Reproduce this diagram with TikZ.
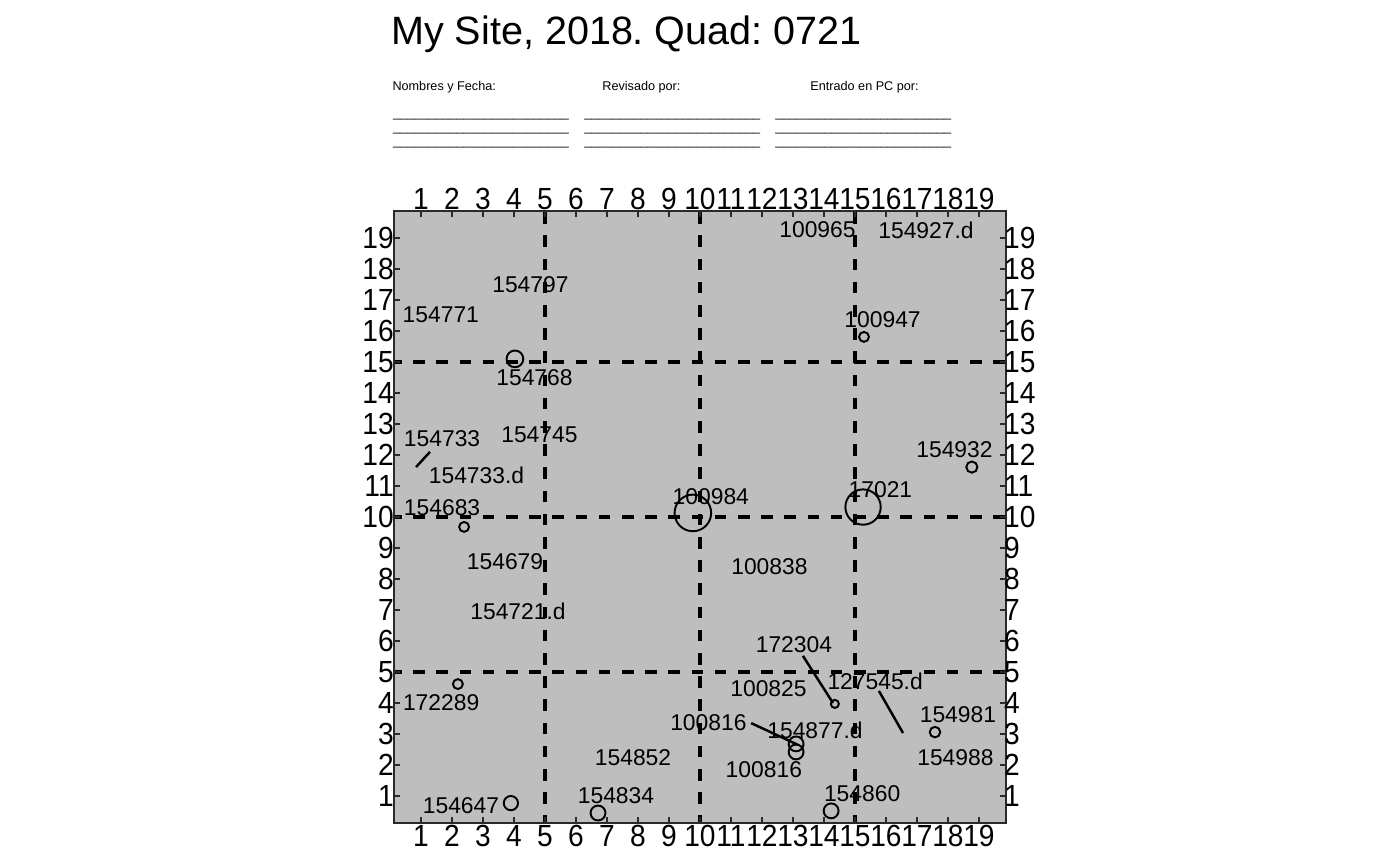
\documentclass[tikz,border=0pt]{standalone}
\usepackage{fontspec}
\setmainfont{Liberation Sans}
\newfontfamily\tickfont[FakeStretch=0.92]{Liberation Sans}
\usepackage{xcolor}
\usepackage{tikz}
\usetikzlibrary{positioning}
\definecolor{plotbg}{HTML}{BEBEBE}
\definecolor{frame}{HTML}{2A2A2A}
\frenchspacing
\begin{document}
\begin{tikzpicture}[x=0.62cm,y=0.62cm,
    tag/.style={font=\fontsize{13}{15}\selectfont,inner sep=0pt},
    ticklabel/.style={font=\tickfont\fontsize{17.4}{20}\selectfont,inner sep=0pt},
    head/.style={font=\fontsize{7.2}{8.6}\selectfont,inner sep=0pt,anchor=base west},
    stem/.style={line width=1.1pt},
    quadline/.style={line width=1.8pt,dash pattern=on 6.6pt off 6.6pt},
    tickmark/.style={draw=frame,line width=1.1pt}]
  \useasboundingbox (-12.581,-1.258) rectangle (32.581,26.677);
  % title and header
  \node[anchor=base west,inner sep=0pt,font=\fontsize{22.5}{26}\selectfont] (title) at (0.03,25.25) {My Site, 2018. Quad: 0721};
  \node[head] (names) at (0.07,23.77) {Nombres y Fecha:};
  \node[head] (check) at (6.84,23.77) {Revisado por:};
  \node[head] (entry) at (13.55,23.77) {Entrado en PC por:};
  \foreach \c/\x in {a/0.09,b/6.26,c/12.42}
    \foreach \r/\y in {1/22.9,2/22.45,3/21.97}
      \node[head] (blank\c\r) at (\x,\y) {\_\_\_\_\_\_\_\_\_\_\_\_\_\_\_\_\_\_\_\_\_\_\_\_\_};
  % plot area
  \fill[plotbg] (0.13,0.13) rectangle (19.87,19.87);
  % tags
  \node[tag] (n100965) at (13.79,19.26) {100965};
  \node[tag] (n154927d) at (17.29,19.26) {154927.d};
  \node[tag] (n154797) at (4.53,17.48) {154797};
  \node[tag] (n154771) at (1.64,16.52) {154771};
  \node[tag] (n100947) at (15.89,16.35) {100947};
  \node[tag] (n154768) at (4.66,14.48) {154768};
  \node[tag] (n154733) at (1.68,12.52) {154733};
  \node[tag] (n154745) at (4.82,12.65) {154745};
  \node[tag] (n154733d) at (2.79,11.35) {154733.d};
  \node[tag] (n154932) at (18.21,12.16) {154932};
  \node[tag] (n154683) at (1.68,10.29) {154683};
  \node[tag] (n100984) at (10.35,10.65) {100984};
  \node[tag] (n17021) at (15.82,10.87) {17021};
  \node[tag] (n154679) at (3.71,8.55) {154679};
  \node[tag] (n100838) at (12.24,8.39) {100838};
  \node[tag] (n154721d) at (4.13,6.97) {154721.d};
  \node[tag] (n172304) at (13.03,5.87) {172304};
  \node[tag] (n127545d) at (15.65,4.71) {127545.d};
  \node[tag] (n100825) at (12.21,4.45) {100825};
  \node[tag] (n172289) at (1.65,4.0) {172289};
  \node[tag] (n154981) at (18.32,3.61) {154981};
  \node[tag] (n154988) at (18.24,2.23) {154988};
  \node[tag] (n100816a) at (10.27,3.35) {100816};
  \node[tag] (n154877d) at (13.71,3.13) {154877.d};
  \node[tag] (n100816b) at (12.06,1.84) {100816};
  \node[tag] (n154852) at (7.84,2.23) {154852};
  \node[tag] (n154860) at (15.23,1.06) {154860};
  \node[tag] (n154834) at (7.29,1.0) {154834};
  \node[tag] (n154647) at (2.29,0.68) {154647};
  % stems
  \foreach \x/\y/\r in {15.29/15.81/0.16, 4.03/15.10/0.27, 18.77/11.61/0.18,
      2.39/9.68/0.16, 9.77/10.13/0.59, 15.26/10.32/0.57, 14.35/3.97/0.13,
      2.19/4.61/0.16, 17.58/3.06/0.17, 13.10/2.68/0.24, 13.10/2.42/0.24,
      14.23/0.52/0.24, 6.71/0.45/0.24, 3.90/0.77/0.23}
    \draw[stem] (\x,\y) circle (\r);
  \draw[stem,line width=1.4pt] (0.84,11.61) -- (1.29,12.10);
  \draw[stem,line width=1.4pt] (13.32,5.52) -- (14.29,4.0);
  \draw[stem,line width=1.4pt] (15.77,4.39) -- (16.55,3.03);
  \draw[stem,line width=1.4pt] (11.65,3.35) -- (13.16,2.65);
  % quadrat lines
  \begin{scope}
    \clip (0.13,0.13) rectangle (19.87,19.87);
    \foreach \v in {5,10,15} {
      \draw[quadline] (\v,0) -- (\v,20);
      \draw[quadline] (0,\v) -- (20,\v);
    }
  \end{scope}
  \draw[frame,line width=0.9pt] (0.13,0.13) rectangle (19.87,19.87);
  % axes
  \foreach \k in {1,...,19} {
    \draw[tickmark] (\k,0.13) -- (\k,0.32);
    \draw[tickmark] (\k,19.87) -- (\k,19.68);
    \draw[tickmark] (0.13,\k) -- (0.32,\k);
    \draw[tickmark] (19.87,\k) -- (19.68,\k);
    \node[ticklabel,anchor=north] (b\k) at (\k,0.07) {\k};
    \node[ticklabel,anchor=south] (t\k) at (\k,19.9) {\k};
    \node[ticklabel,anchor=east] (l\k) at (0.13,\k) {\k};
    \node[ticklabel,anchor=west] (r\k) at (19.8,\k) {\k};
  }
\end{tikzpicture}
\end{document}
